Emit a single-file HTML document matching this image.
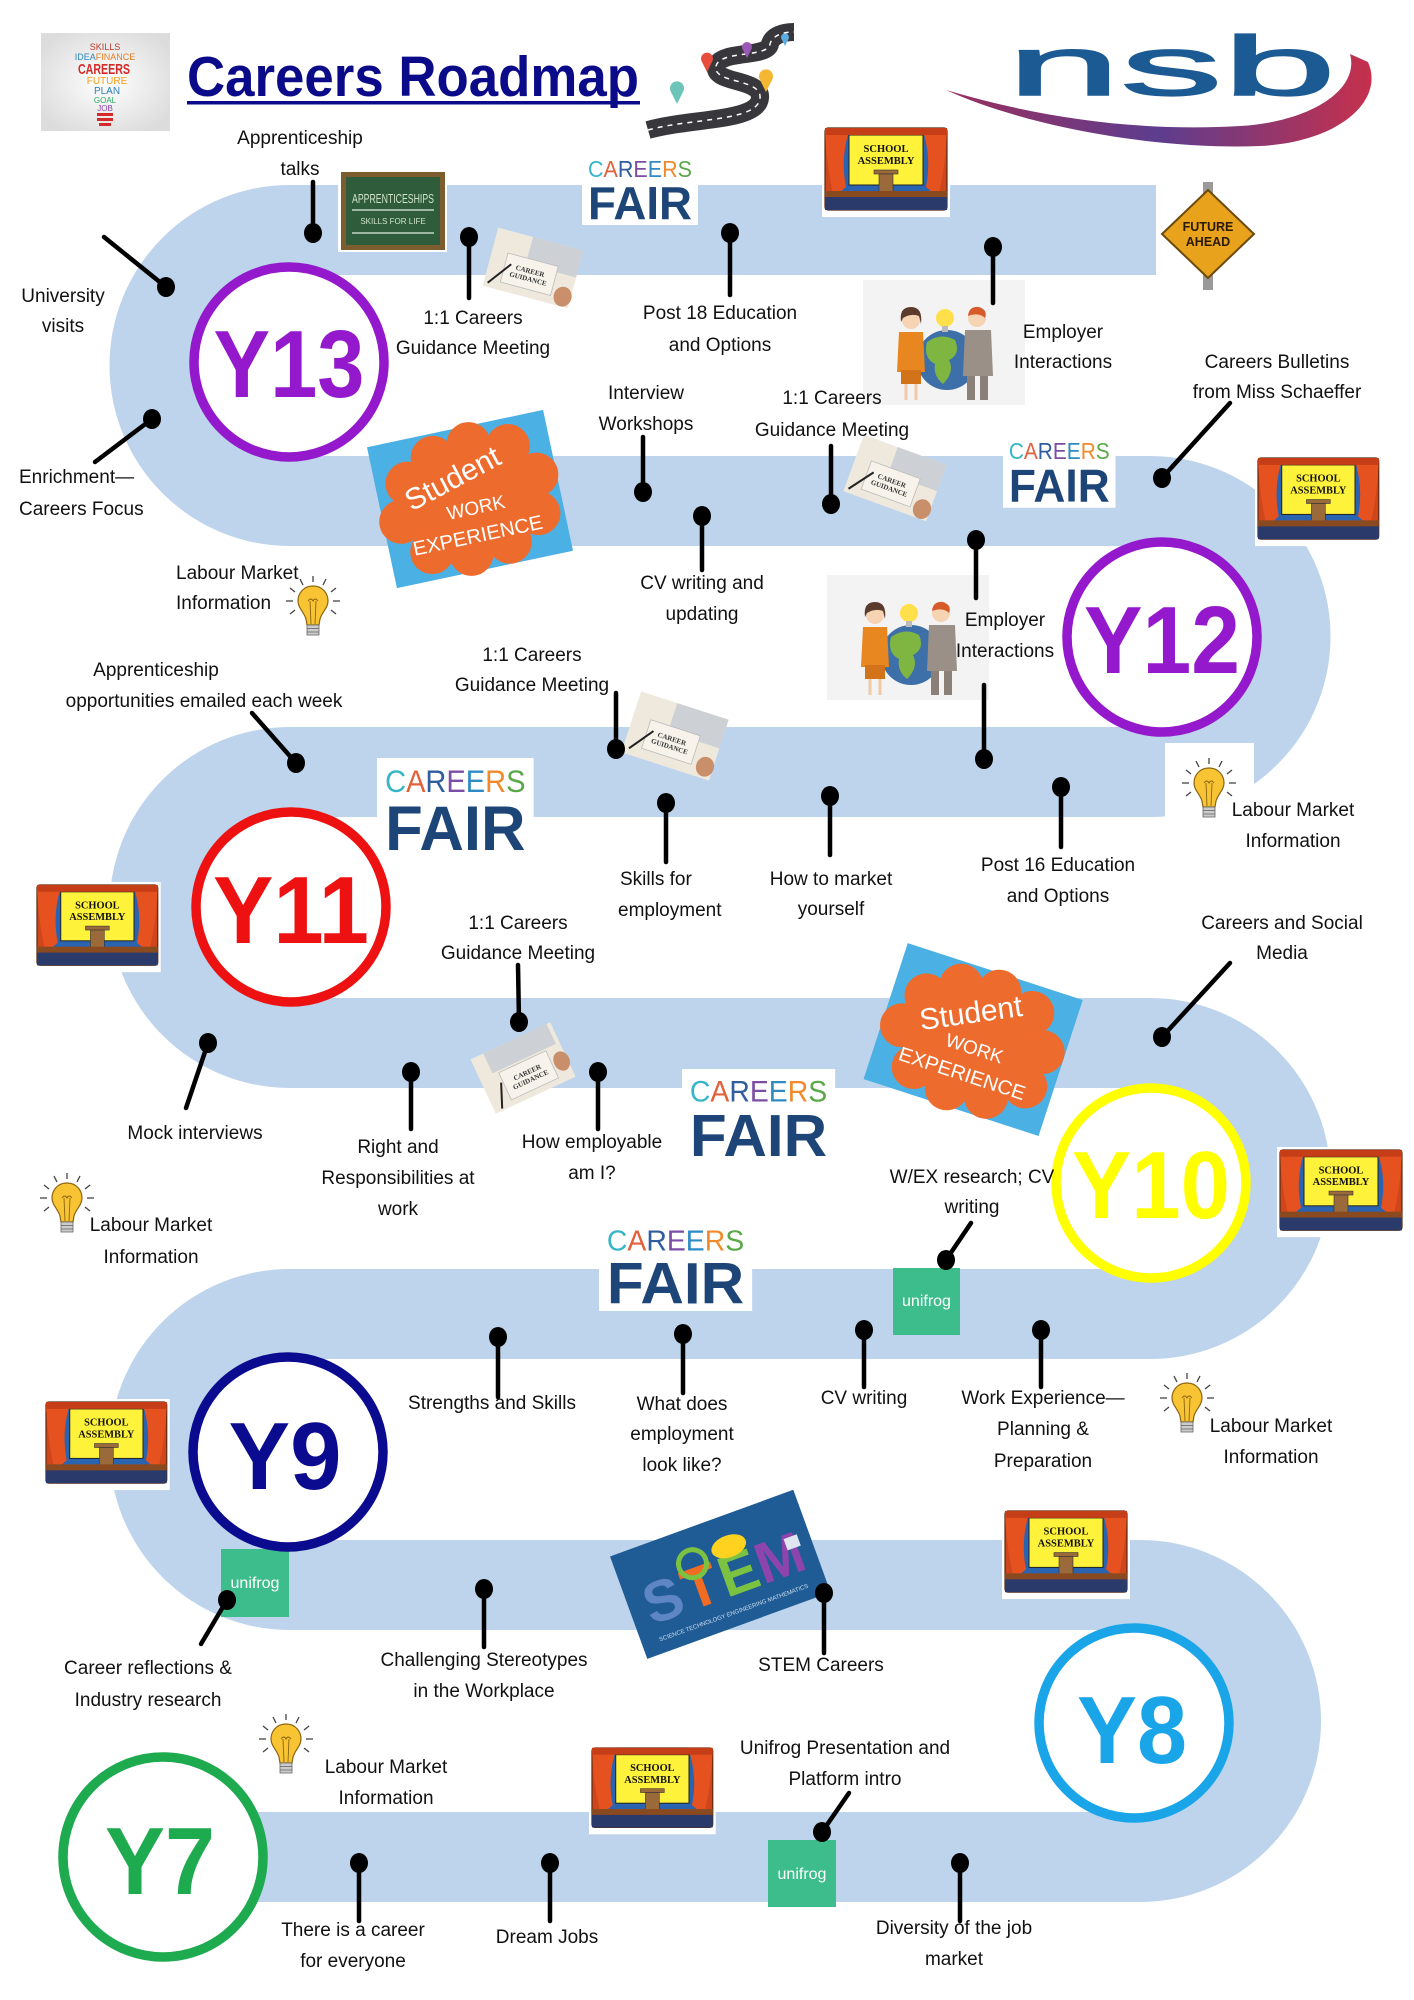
<!DOCTYPE html>
<html>
<head>
<meta charset="utf-8">
<style>
html,body{margin:0;padding:0;background:#fff;}
body{width:1414px;height:2000px;overflow:hidden;}
svg{display:block;}
</style>
</head>
<body>
<svg xmlns="http://www.w3.org/2000/svg" width="1414" height="2000" viewBox="0 0 1414 2000" font-family="Liberation Sans, sans-serif">
<defs>
<linearGradient id="sw" x1="0" y1="0" x2="1" y2="0">
<stop offset="0" stop-color="#9a2f5e"/>
<stop offset="0.5" stop-color="#5d3d8e"/>
<stop offset="1" stop-color="#c6304c"/>
</linearGradient>
<radialGradient id="bg1" cx="0.5" cy="0.5" r="0.6">
<stop offset="0" stop-color="#ffffff"/>
<stop offset="1" stop-color="#dcdcdc"/>
</radialGradient>
</defs>
<rect width="1414" height="2000" fill="#fff"/>

<!-- ROAD -->
<path d="M1156 230 H290 A135.5 135.5 0 0 0 290 501 H1150 A135.5 135.5 0 0 1 1150 772 H290 A135.5 135.5 0 0 0 290 1043 H1150 A135.5 135.5 0 0 1 1150 1314 H290 A135.5 135.5 0 0 0 290 1585 H1140 A136 136 0 0 1 1140 1857 H200" fill="none" stroke="#bed4ec" stroke-width="90"/>

<!-- HEADER -->
<g>
<rect x="41" y="33" width="129" height="98" fill="url(#bg1)"/>
<text x="105" y="50" font-size="9" text-anchor="middle" fill="#c0392b">SKILLS</text>
<text x="105" y="60" font-size="9" text-anchor="middle"><tspan fill="#2e86c1">IDEA</tspan><tspan fill="#e67e22">FINANCE</tspan></text>
<text x="104" y="74" font-size="15" font-weight="bold" text-anchor="middle" fill="#d42a2a" textLength="52" lengthAdjust="spacingAndGlyphs">CAREERS</text>
<text x="107" y="84" font-size="10" text-anchor="middle" fill="#f39c12">FUTURE</text>
<text x="107" y="94" font-size="10" text-anchor="middle" fill="#2980b9">PLAN</text>
<text x="105" y="103" font-size="8" text-anchor="middle" fill="#27ae60">GOAL</text>
<text x="105" y="111" font-size="8" text-anchor="middle" fill="#8e44ad">JOB</text>
<rect x="97" y="113" width="16" height="3" fill="#d42a2a"/>
<rect x="97" y="118" width="16" height="3" fill="#d42a2a"/>
<rect x="99" y="123" width="12" height="3" fill="#d42a2a"/>
</g>

<text x="187" y="96" font-size="57" font-weight="bold" fill="#0b0b8a" textLength="452" lengthAdjust="spacingAndGlyphs">Careers Roadmap</text>
<rect x="187" y="101" width="453" height="3.5" fill="#0b0b8a"/>

<!-- road image -->
<g>
<path d="M648 130 C690 118 758 122 760 98 C762 78 712 84 716 66 C720 50 768 58 770 44 C772 36 782 32 794 32" fill="none" stroke="#38383c" stroke-width="18"/>
<path d="M648 130 C690 118 758 122 760 98 C762 78 712 84 716 66 C720 50 768 58 770 44 C772 36 782 32 794 32" fill="none" stroke="#fff" stroke-width="1.5" stroke-dasharray="5 5"/>
<path d="M677 104 L671 92 A7 7 0 1 1 683 92Z" fill="#6cc5b8"/>
<path d="M707 72 L702 62 A6 6 0 1 1 712 62Z" fill="#e74c3c"/>
<path d="M747 58 L743 50 A5 5 0 1 1 751 50Z" fill="#9b59b6"/>
<path d="M766 92 L760 80 A7 7 0 1 1 772 80Z" fill="#f5b731"/>
<path d="M785 46 L782 40 A4 4 0 1 1 788 40Z" fill="#5dade2"/>
</g>

<!-- nsb logo -->
<path d="M946 90 C1030 128 1160 150 1260 146 C1340 142 1385 100 1368 62 L1350 54 C1360 90 1310 122 1240 126 C1140 132 1040 118 946 90Z" fill="url(#sw)"/>
<text x="1007" y="95" font-size="84" fill="#1c5a94" textLength="329" lengthAdjust="spacingAndGlyphs" stroke="#1c5a94" stroke-width="1.5">nsb</text>

<!-- APPRENTICESHIPS board -->
<g>
<rect x="338" y="170" width="109" height="82" fill="#fff"/>
<rect x="341" y="172" width="104" height="78" fill="#7d5d30"/>
<rect x="346" y="177" width="94" height="68" fill="#2f5d3b"/>
<text x="393" y="203" font-size="13" fill="#cfe2c8" text-anchor="middle" textLength="82" lengthAdjust="spacingAndGlyphs">APPRENTICESHIPS</text>
<line x1="352" y1="210" x2="434" y2="210" stroke="#dfeedd" stroke-width="1.3"/>
<text x="393" y="224" font-size="8" fill="#cfe2c8" text-anchor="middle">SKILLS FOR LIFE</text>
<line x1="352" y1="233" x2="434" y2="233" stroke="#dfeedd" stroke-width="1.3"/>
</g>

<!-- Career guidance cards -->
<g transform="translate(533,268) rotate(15)">
<rect x="-44" y="-30" width="88" height="60" fill="#efe9dd"/>
<rect x="-8" y="-30" width="52" height="28" fill="#cdd1d5"/>
<rect x="-28" y="-8" width="52" height="30" fill="#f7f3ea" stroke="#bbb" stroke-width=".8"/>
<text x="-2" y="6" font-size="7" font-family="Liberation Serif, serif" font-weight="bold" text-anchor="middle" fill="#333">CAREER</text>
<text x="-2" y="14" font-size="7" font-family="Liberation Serif, serif" font-weight="bold" text-anchor="middle" fill="#333">GUIDANCE</text>
<line x1="-40" y1="26" x2="-22" y2="2" stroke="#222" stroke-width="2"/>
<ellipse cx="36" cy="20" rx="9" ry="10" fill="#c98e6a"/>
</g>
<g transform="translate(895,478) rotate(20)">
<rect x="-44" y="-30" width="88" height="60" fill="#efe9dd"/>
<rect x="-8" y="-30" width="52" height="28" fill="#cdd1d5"/>
<rect x="-28" y="-8" width="52" height="30" fill="#f7f3ea" stroke="#bbb" stroke-width=".8"/>
<text x="-2" y="6" font-size="7" font-family="Liberation Serif, serif" font-weight="bold" text-anchor="middle" fill="#333">CAREER</text>
<text x="-2" y="14" font-size="7" font-family="Liberation Serif, serif" font-weight="bold" text-anchor="middle" fill="#333">GUIDANCE</text>
<line x1="-40" y1="26" x2="-22" y2="2" stroke="#222" stroke-width="2"/>
<ellipse cx="36" cy="20" rx="9" ry="10" fill="#c98e6a"/>
</g>
<g transform="translate(675,736) rotate(18)">
<rect x="-46" y="-32" width="92" height="64" fill="#efe9dd"/>
<rect x="-8" y="-32" width="54" height="30" fill="#cdd1d5"/>
<rect x="-28" y="-8" width="52" height="30" fill="#f7f3ea" stroke="#bbb" stroke-width=".8"/>
<text x="-2" y="6" font-size="7" font-family="Liberation Serif, serif" font-weight="bold" text-anchor="middle" fill="#333">CAREER</text>
<text x="-2" y="14" font-size="7" font-family="Liberation Serif, serif" font-weight="bold" text-anchor="middle" fill="#333">GUIDANCE</text>
<line x1="-40" y1="26" x2="-22" y2="2" stroke="#222" stroke-width="2"/>
<ellipse cx="38" cy="20" rx="9" ry="10" fill="#c98e6a"/>
</g>
<g transform="translate(523,1068) rotate(-25)">
<rect x="-44" y="-30" width="88" height="60" fill="#efe9dd"/>
<rect x="-30" y="-30" width="70" height="22" fill="#cdd1d5"/>
<rect x="-24" y="-6" width="52" height="30" fill="#f7f3ea" stroke="#bbb" stroke-width=".8"/>
<text x="2" y="8" font-size="7" font-family="Liberation Serif, serif" font-weight="bold" text-anchor="middle" fill="#333">CAREER</text>
<text x="2" y="16" font-size="7" font-family="Liberation Serif, serif" font-weight="bold" text-anchor="middle" fill="#333">GUIDANCE</text>
<line x1="-36" y1="28" x2="-26" y2="4" stroke="#222" stroke-width="2"/>
<ellipse cx="38" cy="10" rx="8" ry="10" fill="#c98e6a"/>
</g>

<!-- CAREERS FAIR logos -->
<g transform="translate(582,152)">
<rect width="116" height="73" fill="#fff"/>
<text x="58" y="25" font-size="23" text-anchor="middle" textLength="104" lengthAdjust="spacingAndGlyphs"><tspan fill="#36b5c9">C</tspan><tspan fill="#e3603a">A</tspan><tspan fill="#2f5d9e">R</tspan><tspan fill="#7a4ea3">E</tspan><tspan fill="#2e8bc4">E</tspan><tspan fill="#f08a2c">R</tspan><tspan fill="#5ba84a">S</tspan></text>
<text x="58" y="67" font-size="46" font-weight="bold" fill="#1d4577" text-anchor="middle" textLength="104" lengthAdjust="spacingAndGlyphs">FAIR</text>
</g>
<g transform="translate(1003,434) scale(0.97,1.01)">
<rect width="116" height="73" fill="#fff"/>
<text x="58" y="25" font-size="23" text-anchor="middle" textLength="104" lengthAdjust="spacingAndGlyphs"><tspan fill="#36b5c9">C</tspan><tspan fill="#e3603a">A</tspan><tspan fill="#2f5d9e">R</tspan><tspan fill="#7a4ea3">E</tspan><tspan fill="#2e8bc4">E</tspan><tspan fill="#f08a2c">R</tspan><tspan fill="#5ba84a">S</tspan></text>
<text x="58" y="67" font-size="46" font-weight="bold" fill="#1d4577" text-anchor="middle" textLength="104" lengthAdjust="spacingAndGlyphs">FAIR</text>
</g>
<g transform="translate(377,758) scale(1.35,1.37)">
<rect width="116" height="73" fill="#fff"/>
<text x="58" y="25" font-size="23" text-anchor="middle" textLength="104" lengthAdjust="spacingAndGlyphs"><tspan fill="#36b5c9">C</tspan><tspan fill="#e3603a">A</tspan><tspan fill="#2f5d9e">R</tspan><tspan fill="#7a4ea3">E</tspan><tspan fill="#2e8bc4">E</tspan><tspan fill="#f08a2c">R</tspan><tspan fill="#5ba84a">S</tspan></text>
<text x="58" y="67" font-size="46" font-weight="bold" fill="#1d4577" text-anchor="middle" textLength="104" lengthAdjust="spacingAndGlyphs">FAIR</text>
</g>
<g transform="translate(682,1069) scale(1.32,1.3)">
<rect width="116" height="73" fill="#fff"/>
<text x="58" y="25" font-size="23" text-anchor="middle" textLength="104" lengthAdjust="spacingAndGlyphs"><tspan fill="#36b5c9">C</tspan><tspan fill="#e3603a">A</tspan><tspan fill="#2f5d9e">R</tspan><tspan fill="#7a4ea3">E</tspan><tspan fill="#2e8bc4">E</tspan><tspan fill="#f08a2c">R</tspan><tspan fill="#5ba84a">S</tspan></text>
<text x="58" y="67" font-size="46" font-weight="bold" fill="#1d4577" text-anchor="middle" textLength="104" lengthAdjust="spacingAndGlyphs">FAIR</text>
</g>
<g transform="translate(599,1219) scale(1.32,1.26)">
<rect width="116" height="73" fill="#fff"/>
<text x="58" y="25" font-size="23" text-anchor="middle" textLength="104" lengthAdjust="spacingAndGlyphs"><tspan fill="#36b5c9">C</tspan><tspan fill="#e3603a">A</tspan><tspan fill="#2f5d9e">R</tspan><tspan fill="#7a4ea3">E</tspan><tspan fill="#2e8bc4">E</tspan><tspan fill="#f08a2c">R</tspan><tspan fill="#5ba84a">S</tspan></text>
<text x="58" y="67" font-size="46" font-weight="bold" fill="#1d4577" text-anchor="middle" textLength="104" lengthAdjust="spacingAndGlyphs">FAIR</text>
</g>

<!-- SCHOOL ASSEMBLY -->
<g transform="translate(822,125)">
<rect width="128" height="92" fill="#fff"/>
<rect x="3" y="3" width="122" height="82" rx="3" fill="#cf461c" stroke="#5a2a10" stroke-width="1.2"/>
<rect x="14" y="10" width="100" height="60" fill="#2a63b0"/>
<rect x="27" y="10" width="74" height="50" fill="#fff23a" stroke="#222" stroke-width="1"/>
<path d="M3 3 H28 Q18 32 24 62 L12 72 Q4 40 3 3Z" fill="#e5521f"/>
<path d="M125 3 H100 Q110 32 104 62 L116 72 Q124 40 125 3Z" fill="#e5521f"/>
<rect x="3" y="3" width="122" height="7" fill="#c53e18"/>
<rect x="52" y="45" width="24" height="4" fill="#9a6a3a" stroke="#333" stroke-width=".6"/>
<rect x="57" y="49" width="14" height="18" fill="#9a6a3a" stroke="#333" stroke-width=".6"/>
<rect x="3" y="66" width="122" height="6" fill="#8a4a20"/>
<rect x="3" y="72" width="122" height="13" fill="#2a3b6b"/>
<text x="64" y="27" font-family="Liberation Serif, serif" font-weight="bold" font-size="10.5" text-anchor="middle" fill="#111">SCHOOL</text>
<text x="64" y="39" font-family="Liberation Serif, serif" font-weight="bold" font-size="10.5" text-anchor="middle" fill="#111">ASSEMBLY</text>
</g>
<g transform="translate(1255,455) scale(0.99,0.99)">
<rect width="128" height="92" fill="#fff"/>
<rect x="3" y="3" width="122" height="82" rx="3" fill="#cf461c" stroke="#5a2a10" stroke-width="1.2"/>
<rect x="14" y="10" width="100" height="60" fill="#2a63b0"/>
<rect x="27" y="10" width="74" height="50" fill="#fff23a" stroke="#222" stroke-width="1"/>
<path d="M3 3 H28 Q18 32 24 62 L12 72 Q4 40 3 3Z" fill="#e5521f"/>
<path d="M125 3 H100 Q110 32 104 62 L116 72 Q124 40 125 3Z" fill="#e5521f"/>
<rect x="3" y="3" width="122" height="7" fill="#c53e18"/>
<rect x="52" y="45" width="24" height="4" fill="#9a6a3a" stroke="#333" stroke-width=".6"/>
<rect x="57" y="49" width="14" height="18" fill="#9a6a3a" stroke="#333" stroke-width=".6"/>
<rect x="3" y="66" width="122" height="6" fill="#8a4a20"/>
<rect x="3" y="72" width="122" height="13" fill="#2a3b6b"/>
<text x="64" y="27" font-family="Liberation Serif, serif" font-weight="bold" font-size="10.5" text-anchor="middle" fill="#111">SCHOOL</text>
<text x="64" y="39" font-family="Liberation Serif, serif" font-weight="bold" font-size="10.5" text-anchor="middle" fill="#111">ASSEMBLY</text>
</g>
<g transform="translate(34,882) scale(0.99,0.98)">
<rect width="128" height="92" fill="#fff"/>
<rect x="3" y="3" width="122" height="82" rx="3" fill="#cf461c" stroke="#5a2a10" stroke-width="1.2"/>
<rect x="14" y="10" width="100" height="60" fill="#2a63b0"/>
<rect x="27" y="10" width="74" height="50" fill="#fff23a" stroke="#222" stroke-width="1"/>
<path d="M3 3 H28 Q18 32 24 62 L12 72 Q4 40 3 3Z" fill="#e5521f"/>
<path d="M125 3 H100 Q110 32 104 62 L116 72 Q124 40 125 3Z" fill="#e5521f"/>
<rect x="3" y="3" width="122" height="7" fill="#c53e18"/>
<rect x="52" y="45" width="24" height="4" fill="#9a6a3a" stroke="#333" stroke-width=".6"/>
<rect x="57" y="49" width="14" height="18" fill="#9a6a3a" stroke="#333" stroke-width=".6"/>
<rect x="3" y="66" width="122" height="6" fill="#8a4a20"/>
<rect x="3" y="72" width="122" height="13" fill="#2a3b6b"/>
<text x="64" y="27" font-family="Liberation Serif, serif" font-weight="bold" font-size="10.5" text-anchor="middle" fill="#111">SCHOOL</text>
<text x="64" y="39" font-family="Liberation Serif, serif" font-weight="bold" font-size="10.5" text-anchor="middle" fill="#111">ASSEMBLY</text>
</g>
<g transform="translate(1277,1147) scale(1.0,0.98)">
<rect width="128" height="92" fill="#fff"/>
<rect x="3" y="3" width="122" height="82" rx="3" fill="#cf461c" stroke="#5a2a10" stroke-width="1.2"/>
<rect x="14" y="10" width="100" height="60" fill="#2a63b0"/>
<rect x="27" y="10" width="74" height="50" fill="#fff23a" stroke="#222" stroke-width="1"/>
<path d="M3 3 H28 Q18 32 24 62 L12 72 Q4 40 3 3Z" fill="#e5521f"/>
<path d="M125 3 H100 Q110 32 104 62 L116 72 Q124 40 125 3Z" fill="#e5521f"/>
<rect x="3" y="3" width="122" height="7" fill="#c53e18"/>
<rect x="52" y="45" width="24" height="4" fill="#9a6a3a" stroke="#333" stroke-width=".6"/>
<rect x="57" y="49" width="14" height="18" fill="#9a6a3a" stroke="#333" stroke-width=".6"/>
<rect x="3" y="66" width="122" height="6" fill="#8a4a20"/>
<rect x="3" y="72" width="122" height="13" fill="#2a3b6b"/>
<text x="64" y="27" font-family="Liberation Serif, serif" font-weight="bold" font-size="10.5" text-anchor="middle" fill="#111">SCHOOL</text>
<text x="64" y="39" font-family="Liberation Serif, serif" font-weight="bold" font-size="10.5" text-anchor="middle" fill="#111">ASSEMBLY</text>
</g>
<g transform="translate(43,1399) scale(0.99,0.99)">
<rect width="128" height="92" fill="#fff"/>
<rect x="3" y="3" width="122" height="82" rx="3" fill="#cf461c" stroke="#5a2a10" stroke-width="1.2"/>
<rect x="14" y="10" width="100" height="60" fill="#2a63b0"/>
<rect x="27" y="10" width="74" height="50" fill="#fff23a" stroke="#222" stroke-width="1"/>
<path d="M3 3 H28 Q18 32 24 62 L12 72 Q4 40 3 3Z" fill="#e5521f"/>
<path d="M125 3 H100 Q110 32 104 62 L116 72 Q124 40 125 3Z" fill="#e5521f"/>
<rect x="3" y="3" width="122" height="7" fill="#c53e18"/>
<rect x="52" y="45" width="24" height="4" fill="#9a6a3a" stroke="#333" stroke-width=".6"/>
<rect x="57" y="49" width="14" height="18" fill="#9a6a3a" stroke="#333" stroke-width=".6"/>
<rect x="3" y="66" width="122" height="6" fill="#8a4a20"/>
<rect x="3" y="72" width="122" height="13" fill="#2a3b6b"/>
<text x="64" y="27" font-family="Liberation Serif, serif" font-weight="bold" font-size="10.5" text-anchor="middle" fill="#111">SCHOOL</text>
<text x="64" y="39" font-family="Liberation Serif, serif" font-weight="bold" font-size="10.5" text-anchor="middle" fill="#111">ASSEMBLY</text>
</g>
<g transform="translate(1002,1508) scale(1.0,0.99)">
<rect width="128" height="92" fill="#fff"/>
<rect x="3" y="3" width="122" height="82" rx="3" fill="#cf461c" stroke="#5a2a10" stroke-width="1.2"/>
<rect x="14" y="10" width="100" height="60" fill="#2a63b0"/>
<rect x="27" y="10" width="74" height="50" fill="#fff23a" stroke="#222" stroke-width="1"/>
<path d="M3 3 H28 Q18 32 24 62 L12 72 Q4 40 3 3Z" fill="#e5521f"/>
<path d="M125 3 H100 Q110 32 104 62 L116 72 Q124 40 125 3Z" fill="#e5521f"/>
<rect x="3" y="3" width="122" height="7" fill="#c53e18"/>
<rect x="52" y="45" width="24" height="4" fill="#9a6a3a" stroke="#333" stroke-width=".6"/>
<rect x="57" y="49" width="14" height="18" fill="#9a6a3a" stroke="#333" stroke-width=".6"/>
<rect x="3" y="66" width="122" height="6" fill="#8a4a20"/>
<rect x="3" y="72" width="122" height="13" fill="#2a3b6b"/>
<text x="64" y="27" font-family="Liberation Serif, serif" font-weight="bold" font-size="10.5" text-anchor="middle" fill="#111">SCHOOL</text>
<text x="64" y="39" font-family="Liberation Serif, serif" font-weight="bold" font-size="10.5" text-anchor="middle" fill="#111">ASSEMBLY</text>
</g>
<g transform="translate(589,1745) scale(0.99,0.97)">
<rect width="128" height="92" fill="#fff"/>
<rect x="3" y="3" width="122" height="82" rx="3" fill="#cf461c" stroke="#5a2a10" stroke-width="1.2"/>
<rect x="14" y="10" width="100" height="60" fill="#2a63b0"/>
<rect x="27" y="10" width="74" height="50" fill="#fff23a" stroke="#222" stroke-width="1"/>
<path d="M3 3 H28 Q18 32 24 62 L12 72 Q4 40 3 3Z" fill="#e5521f"/>
<path d="M125 3 H100 Q110 32 104 62 L116 72 Q124 40 125 3Z" fill="#e5521f"/>
<rect x="3" y="3" width="122" height="7" fill="#c53e18"/>
<rect x="52" y="45" width="24" height="4" fill="#9a6a3a" stroke="#333" stroke-width=".6"/>
<rect x="57" y="49" width="14" height="18" fill="#9a6a3a" stroke="#333" stroke-width=".6"/>
<rect x="3" y="66" width="122" height="6" fill="#8a4a20"/>
<rect x="3" y="72" width="122" height="13" fill="#2a3b6b"/>
<text x="64" y="27" font-family="Liberation Serif, serif" font-weight="bold" font-size="10.5" text-anchor="middle" fill="#111">SCHOOL</text>
<text x="64" y="39" font-family="Liberation Serif, serif" font-weight="bold" font-size="10.5" text-anchor="middle" fill="#111">ASSEMBLY</text>
</g>

<!-- EMPLOYER images -->
<g transform="translate(863,280)">
<rect width="162" height="125" fill="#f3f3f3"/>
<circle cx="84" cy="80" r="30" fill="#3d6fa8"/>
<path d="M64 62 Q78 52 92 60 Q98 74 86 80 Q92 92 80 104 Q70 96 72 84 Q60 78 64 62Z" fill="#7fb541"/>
<circle cx="82" cy="38" r="9" fill="#ffe04a"/>
<rect x="79" y="46" width="6" height="6" fill="#bbb"/>
<circle cx="48" cy="40" r="9" fill="#f6d3b3"/>
<path d="M38 42 Q36 27 48 27 Q60 27 58 44 L56 36 Q48 33 40 38Z" fill="#5b3b2b"/>
<path d="M36 52 H60 L62 92 H34Z" fill="#e8861f"/>
<rect x="38" y="90" width="20" height="14" fill="#d2731a"/>
<line x1="43" y1="104" x2="43" y2="120" stroke="#f0c9a8" stroke-width="3"/>
<line x1="53" y1="104" x2="53" y2="120" stroke="#f0c9a8" stroke-width="3"/>
<circle cx="114" cy="38" r="9" fill="#f6d3b3"/>
<path d="M105 36 Q106 26 116 27 Q125 30 122 38 Q116 32 105 36Z" fill="#d65a2a"/>
<path d="M102 50 H128 L130 96 H100Z" fill="#9b9087"/>
<rect x="104" y="96" width="8" height="24" fill="#8a8078"/>
<rect x="117" y="96" width="8" height="24" fill="#8a8078"/>
</g>
<g transform="translate(827,575)">
<rect width="162" height="125" fill="#f3f3f3"/>
<circle cx="84" cy="80" r="30" fill="#3d6fa8"/>
<path d="M64 62 Q78 52 92 60 Q98 74 86 80 Q92 92 80 104 Q70 96 72 84 Q60 78 64 62Z" fill="#7fb541"/>
<circle cx="82" cy="38" r="9" fill="#ffe04a"/>
<rect x="79" y="46" width="6" height="6" fill="#bbb"/>
<circle cx="48" cy="40" r="9" fill="#f6d3b3"/>
<path d="M38 42 Q36 27 48 27 Q60 27 58 44 L56 36 Q48 33 40 38Z" fill="#5b3b2b"/>
<path d="M36 52 H60 L62 92 H34Z" fill="#e8861f"/>
<rect x="38" y="90" width="20" height="14" fill="#d2731a"/>
<line x1="43" y1="104" x2="43" y2="120" stroke="#f0c9a8" stroke-width="3"/>
<line x1="53" y1="104" x2="53" y2="120" stroke="#f0c9a8" stroke-width="3"/>
<circle cx="114" cy="38" r="9" fill="#f6d3b3"/>
<path d="M105 36 Q106 26 116 27 Q125 30 122 38 Q116 32 105 36Z" fill="#d65a2a"/>
<path d="M102 50 H128 L130 96 H100Z" fill="#9b9087"/>
<rect x="104" y="96" width="8" height="24" fill="#8a8078"/>
<rect x="117" y="96" width="8" height="24" fill="#8a8078"/>
</g>

<!-- FUTURE AHEAD sign -->
<g>
<rect x="1203" y="182" width="10" height="108" fill="#9a9a9a"/>
<polygon points="1208,190 1254,234 1208,278 1162,234" fill="#e9a21c" stroke="#6b4a0a" stroke-width="2"/>
<text x="1208" y="231" font-size="12.5" font-weight="bold" fill="#2a1a00" text-anchor="middle">FUTURE</text>
<text x="1208" y="246" font-size="12.5" font-weight="bold" fill="#2a1a00" text-anchor="middle">AHEAD</text>
</g>

<!-- STUDENT WORK EXPERIENCE -->
<g transform="translate(470,499) rotate(-12)">
<rect x="-90" y="-72" width="180" height="144" fill="#4bb0e3"/>
<g fill="#ee6b2e">
<ellipse cx="0" cy="0" rx="68" ry="50"/>
<circle cx="-58" cy="-28" r="22"/><circle cx="-28" cy="-48" r="22"/><circle cx="10" cy="-54" r="22"/><circle cx="48" cy="-44" r="22"/><circle cx="70" cy="-10" r="22"/><circle cx="64" cy="28" r="22"/><circle cx="30" cy="50" r="22"/><circle cx="-10" cy="54" r="22"/><circle cx="-48" cy="44" r="22"/><circle cx="-72" cy="8" r="22"/>
</g>
<text x="-10" y="-14" font-size="30" fill="#fff" text-anchor="middle" transform="rotate(-16 -10 -14)">Student</text>
<text x="4" y="16" font-size="19" fill="#fff" text-anchor="middle">WORK</text>
<text x="0" y="44" font-size="20" fill="#fff" text-anchor="middle" textLength="132" lengthAdjust="spacingAndGlyphs">EXPERIENCE</text>
</g>
<g transform="translate(973,1040) rotate(18)">
<rect x="-92" y="-72" width="184" height="143" fill="#4bb0e3"/>
<g fill="#ee6b2e">
<ellipse cx="0" cy="0" rx="68" ry="50"/>
<circle cx="-58" cy="-28" r="22"/><circle cx="-28" cy="-48" r="22"/><circle cx="10" cy="-54" r="22"/><circle cx="48" cy="-44" r="22"/><circle cx="70" cy="-10" r="22"/><circle cx="64" cy="28" r="22"/><circle cx="30" cy="50" r="22"/><circle cx="-10" cy="54" r="22"/><circle cx="-48" cy="44" r="22"/><circle cx="-72" cy="8" r="22"/>
</g>
<text x="-6" y="-16" font-size="30" fill="#fff" text-anchor="middle" transform="rotate(-26 -6 -16)">Student</text>
<text x="4" y="14" font-size="19" fill="#fff" text-anchor="middle">WORK</text>
<text x="0" y="42" font-size="20" fill="#fff" text-anchor="middle" textLength="132" lengthAdjust="spacingAndGlyphs">EXPERIENCE</text>
</g>

<!-- STEM -->
<g transform="translate(720,1575) rotate(-20)">
<rect x="-97" y="-55" width="195" height="109" fill="#1f5b94"/>
<text x="-62" y="24" font-size="58" font-weight="bold" fill="#5f86c4" text-anchor="middle">S</text>
<text x="-22" y="24" font-size="58" font-weight="bold" fill="#f26b22" text-anchor="middle">T</text>
<circle cx="-22" cy="-20" r="14" fill="none" stroke="#7cc242" stroke-width="5"/>
<text x="18" y="24" font-size="58" font-weight="bold" fill="#7cc242" text-anchor="middle">E</text>
<ellipse cx="18" cy="-24" rx="18" ry="11" fill="#ffd21f"/>
<text x="62" y="24" font-size="58" font-weight="bold" fill="#8e44ad" text-anchor="middle">M</text>
<rect x="72" y="-12" width="14" height="12" fill="#dfe6f0"/>
<text x="0" y="42" font-size="6" fill="#cde" text-anchor="middle">SCIENCE  TECHNOLOGY  ENGINEERING  MATHEMATICS</text>
</g>

<!-- Lightbulbs -->
<rect x="1165" y="743" width="89" height="87" fill="#fff"/>
<g transform="translate(284,575)">
<g stroke="#444" stroke-width="1.3"><line x1="29" y1="1" x2="29" y2="7"/><line x1="16" y1="4" x2="19" y2="10"/><line x1="42" y1="4" x2="39" y2="10"/><line x1="6" y1="13" x2="11" y2="17"/><line x1="52" y1="13" x2="47" y2="17"/><line x1="2" y1="26" x2="9" y2="26"/><line x1="56" y1="26" x2="49" y2="26"/><line x1="6" y1="39" x2="11" y2="35"/><line x1="52" y1="39" x2="47" y2="35"/></g>
<path d="M29 11 C19 11 14 19 14 26 C14 33 20 37 22 44 L23 50 H35 L36 44 C38 37 44 33 44 26 C44 19 39 11 29 11Z" fill="#f9c433" stroke="#8a6410" stroke-width="1.2"/>
<path d="M24 26 Q27 22 29 26 Q31 22 34 26 M26 26 L27 49 M32 26 L31 49" fill="none" stroke="#8a6410" stroke-width="0.9"/>
<rect x="23" y="50" width="12" height="10" fill="#ccc" stroke="#666" stroke-width="0.8"/>
<line x1="23" y1="53.5" x2="35" y2="53.5" stroke="#666" stroke-width=".8"/><line x1="23" y1="57" x2="35" y2="57" stroke="#666" stroke-width=".8"/>
</g>
<g transform="translate(1180,757)">
<g stroke="#444" stroke-width="1.3"><line x1="29" y1="1" x2="29" y2="7"/><line x1="16" y1="4" x2="19" y2="10"/><line x1="42" y1="4" x2="39" y2="10"/><line x1="6" y1="13" x2="11" y2="17"/><line x1="52" y1="13" x2="47" y2="17"/><line x1="2" y1="26" x2="9" y2="26"/><line x1="56" y1="26" x2="49" y2="26"/><line x1="6" y1="39" x2="11" y2="35"/><line x1="52" y1="39" x2="47" y2="35"/></g>
<path d="M29 11 C19 11 14 19 14 26 C14 33 20 37 22 44 L23 50 H35 L36 44 C38 37 44 33 44 26 C44 19 39 11 29 11Z" fill="#f9c433" stroke="#8a6410" stroke-width="1.2"/>
<path d="M24 26 Q27 22 29 26 Q31 22 34 26 M26 26 L27 49 M32 26 L31 49" fill="none" stroke="#8a6410" stroke-width="0.9"/>
<rect x="23" y="50" width="12" height="10" fill="#ccc" stroke="#666" stroke-width="0.8"/>
<line x1="23" y1="53.5" x2="35" y2="53.5" stroke="#666" stroke-width=".8"/><line x1="23" y1="57" x2="35" y2="57" stroke="#666" stroke-width=".8"/>
</g>
<g transform="translate(38,1172)">
<g stroke="#444" stroke-width="1.3"><line x1="29" y1="1" x2="29" y2="7"/><line x1="16" y1="4" x2="19" y2="10"/><line x1="42" y1="4" x2="39" y2="10"/><line x1="6" y1="13" x2="11" y2="17"/><line x1="52" y1="13" x2="47" y2="17"/><line x1="2" y1="26" x2="9" y2="26"/><line x1="56" y1="26" x2="49" y2="26"/><line x1="6" y1="39" x2="11" y2="35"/><line x1="52" y1="39" x2="47" y2="35"/></g>
<path d="M29 11 C19 11 14 19 14 26 C14 33 20 37 22 44 L23 50 H35 L36 44 C38 37 44 33 44 26 C44 19 39 11 29 11Z" fill="#f9c433" stroke="#8a6410" stroke-width="1.2"/>
<path d="M24 26 Q27 22 29 26 Q31 22 34 26 M26 26 L27 49 M32 26 L31 49" fill="none" stroke="#8a6410" stroke-width="0.9"/>
<rect x="23" y="50" width="12" height="10" fill="#ccc" stroke="#666" stroke-width="0.8"/>
<line x1="23" y1="53.5" x2="35" y2="53.5" stroke="#666" stroke-width=".8"/><line x1="23" y1="57" x2="35" y2="57" stroke="#666" stroke-width=".8"/>
</g>
<g transform="translate(1158,1372)">
<g stroke="#444" stroke-width="1.3"><line x1="29" y1="1" x2="29" y2="7"/><line x1="16" y1="4" x2="19" y2="10"/><line x1="42" y1="4" x2="39" y2="10"/><line x1="6" y1="13" x2="11" y2="17"/><line x1="52" y1="13" x2="47" y2="17"/><line x1="2" y1="26" x2="9" y2="26"/><line x1="56" y1="26" x2="49" y2="26"/><line x1="6" y1="39" x2="11" y2="35"/><line x1="52" y1="39" x2="47" y2="35"/></g>
<path d="M29 11 C19 11 14 19 14 26 C14 33 20 37 22 44 L23 50 H35 L36 44 C38 37 44 33 44 26 C44 19 39 11 29 11Z" fill="#f9c433" stroke="#8a6410" stroke-width="1.2"/>
<path d="M24 26 Q27 22 29 26 Q31 22 34 26 M26 26 L27 49 M32 26 L31 49" fill="none" stroke="#8a6410" stroke-width="0.9"/>
<rect x="23" y="50" width="12" height="10" fill="#ccc" stroke="#666" stroke-width="0.8"/>
<line x1="23" y1="53.5" x2="35" y2="53.5" stroke="#666" stroke-width=".8"/><line x1="23" y1="57" x2="35" y2="57" stroke="#666" stroke-width=".8"/>
</g>
<g transform="translate(257,1713)">
<g stroke="#444" stroke-width="1.3"><line x1="29" y1="1" x2="29" y2="7"/><line x1="16" y1="4" x2="19" y2="10"/><line x1="42" y1="4" x2="39" y2="10"/><line x1="6" y1="13" x2="11" y2="17"/><line x1="52" y1="13" x2="47" y2="17"/><line x1="2" y1="26" x2="9" y2="26"/><line x1="56" y1="26" x2="49" y2="26"/><line x1="6" y1="39" x2="11" y2="35"/><line x1="52" y1="39" x2="47" y2="35"/></g>
<path d="M29 11 C19 11 14 19 14 26 C14 33 20 37 22 44 L23 50 H35 L36 44 C38 37 44 33 44 26 C44 19 39 11 29 11Z" fill="#f9c433" stroke="#8a6410" stroke-width="1.2"/>
<path d="M24 26 Q27 22 29 26 Q31 22 34 26 M26 26 L27 49 M32 26 L31 49" fill="none" stroke="#8a6410" stroke-width="0.9"/>
<rect x="23" y="50" width="12" height="10" fill="#ccc" stroke="#666" stroke-width="0.8"/>
<line x1="23" y1="53.5" x2="35" y2="53.5" stroke="#666" stroke-width=".8"/><line x1="23" y1="57" x2="35" y2="57" stroke="#666" stroke-width=".8"/>
</g>

<!-- UNIFROG -->
<g>
<rect x="893" y="1268" width="67" height="67" fill="#3dbd8b"/>
<text x="926.5" y="1306" font-size="16" fill="#fff" text-anchor="middle">unifrog</text>
<rect x="221" y="1549" width="68" height="68" fill="#3dbd8b"/>
<text x="255" y="1588" font-size="16" fill="#fff" text-anchor="middle">unifrog</text>
<rect x="768" y="1840" width="68" height="67" fill="#3dbd8b"/>
<text x="802" y="1879" font-size="16" fill="#fff" text-anchor="middle">unifrog</text>
</g>

<!-- YEAR CIRCLES -->
<g fill="#fff" stroke-width="9.5">
<circle cx="289" cy="362" r="95" stroke="#9418cc"/>
<circle cx="1162" cy="637" r="95" stroke="#9418cc"/>
<circle cx="291" cy="907" r="95" stroke="#ee1111"/>
<circle cx="1151" cy="1183" r="95" stroke="#ffff00"/>
<circle cx="288" cy="1452" r="95" stroke="#0b0b8f"/>
<circle cx="1134" cy="1723" r="95" stroke="#1aa5e8"/>
<circle cx="163" cy="1857" r="100" stroke="#1eaa4f"/>
</g>
<g font-size="96" font-weight="bold" text-anchor="middle">
<text x="289" y="397" fill="#9418cc" textLength="151" lengthAdjust="spacingAndGlyphs">Y13</text>
<text x="1162" y="673" fill="#9418cc" textLength="156" lengthAdjust="spacingAndGlyphs">Y12</text>
<text x="291" y="943" fill="#ee1111" textLength="156" lengthAdjust="spacingAndGlyphs">Y11</text>
<text x="1151" y="1218" fill="#ffff00" textLength="158" lengthAdjust="spacingAndGlyphs">Y10</text>
<text x="285" y="1489" fill="#0b0b8f" textLength="113" lengthAdjust="spacingAndGlyphs">Y9</text>
<text x="1132" y="1763" fill="#1aa5e8" textLength="110" lengthAdjust="spacingAndGlyphs">Y8</text>
<text x="160" y="1894" fill="#1eaa4f" textLength="110" lengthAdjust="spacingAndGlyphs">Y7</text>
</g>

<!-- PINS -->
<g stroke="#000" stroke-width="4.5" stroke-linecap="round">
<line x1="313" y1="182" x2="313" y2="233"/>
<line x1="104" y1="237" x2="166" y2="287"/>
<line x1="469" y1="237" x2="469" y2="298"/>
<line x1="730" y1="233" x2="730" y2="295"/>
<line x1="993" y1="247" x2="993" y2="303"/>
<line x1="1230" y1="403" x2="1162" y2="478"/>
<line x1="152" y1="419" x2="95" y2="462"/>
<line x1="643" y1="437" x2="643" y2="492"/>
<line x1="831" y1="446" x2="831" y2="504"/>
<line x1="702" y1="516" x2="702" y2="570"/>
<line x1="976" y1="540" x2="976" y2="598"/>
<line x1="252" y1="713" x2="296" y2="763"/>
<line x1="616" y1="693" x2="616" y2="749"/>
<line x1="984" y1="685" x2="984" y2="759"/>
<line x1="666" y1="803" x2="666" y2="862"/>
<line x1="830" y1="796" x2="830" y2="855"/>
<line x1="1061" y1="787" x2="1061" y2="847"/>
<line x1="1230" y1="963" x2="1162" y2="1037"/>
<line x1="518" y1="965" x2="519" y2="1022"/>
<line x1="208" y1="1043" x2="186" y2="1108"/>
<line x1="411" y1="1072" x2="411" y2="1129"/>
<line x1="598" y1="1072" x2="598" y2="1129"/>
<line x1="971" y1="1223" x2="946" y2="1260"/>
<line x1="498" y1="1337" x2="498" y2="1397"/>
<line x1="683" y1="1334" x2="683" y2="1393"/>
<line x1="864" y1="1330" x2="864" y2="1387"/>
<line x1="1041" y1="1330" x2="1041" y2="1387"/>
<line x1="227" y1="1600" x2="201" y2="1644"/>
<line x1="484" y1="1589" x2="484" y2="1647"/>
<line x1="824" y1="1593" x2="824" y2="1653"/>
<line x1="849" y1="1793" x2="822" y2="1832"/>
<line x1="359" y1="1863" x2="359" y2="1921"/>
<line x1="550" y1="1863" x2="550" y2="1921"/>
<line x1="960" y1="1863" x2="960" y2="1921"/>
</g>
<g fill="#000">
<ellipse cx="313" cy="233" rx="9" ry="10"/>
<ellipse cx="166" cy="287" rx="9" ry="10"/>
<ellipse cx="469" cy="237" rx="9" ry="10"/>
<ellipse cx="730" cy="233" rx="9" ry="10"/>
<ellipse cx="993" cy="247" rx="9" ry="10"/>
<ellipse cx="1162" cy="478" rx="9" ry="10"/>
<ellipse cx="152" cy="419" rx="9" ry="10"/>
<ellipse cx="643" cy="492" rx="9" ry="10"/>
<ellipse cx="831" cy="504" rx="9" ry="10"/>
<ellipse cx="702" cy="516" rx="9" ry="10"/>
<ellipse cx="976" cy="540" rx="9" ry="10"/>
<ellipse cx="296" cy="763" rx="9" ry="10"/>
<ellipse cx="616" cy="749" rx="9" ry="10"/>
<ellipse cx="984" cy="759" rx="9" ry="10"/>
<ellipse cx="666" cy="803" rx="9" ry="10"/>
<ellipse cx="830" cy="796" rx="9" ry="10"/>
<ellipse cx="1061" cy="787" rx="9" ry="10"/>
<ellipse cx="1162" cy="1037" rx="9" ry="10"/>
<ellipse cx="519" cy="1022" rx="9" ry="10"/>
<ellipse cx="208" cy="1043" rx="9" ry="10"/>
<ellipse cx="411" cy="1072" rx="9" ry="10"/>
<ellipse cx="598" cy="1072" rx="9" ry="10"/>
<ellipse cx="946" cy="1260" rx="9" ry="10"/>
<ellipse cx="498" cy="1337" rx="9" ry="10"/>
<ellipse cx="683" cy="1334" rx="9" ry="10"/>
<ellipse cx="864" cy="1330" rx="9" ry="10"/>
<ellipse cx="1041" cy="1330" rx="9" ry="10"/>
<ellipse cx="227" cy="1600" rx="9" ry="10"/>
<ellipse cx="484" cy="1589" rx="9" ry="10"/>
<ellipse cx="824" cy="1593" rx="9" ry="10"/>
<ellipse cx="822" cy="1832" rx="9" ry="10"/>
<ellipse cx="359" cy="1863" rx="9" ry="10"/>
<ellipse cx="550" cy="1863" rx="9" ry="10"/>
<ellipse cx="960" cy="1863" rx="9" ry="10"/>
</g>

<!-- LABELS -->
<g font-size="19" fill="#111" text-anchor="middle">
<text x="300" y="144">Apprenticeship</text>
<text x="300" y="175">talks</text>
<text x="63" y="302">University</text>
<text x="63" y="332">visits</text>
<text x="473" y="324">1:1 Careers</text>
<text x="473" y="354">Guidance Meeting</text>
<text x="720" y="319">Post 18 Education</text>
<text x="720" y="351">and Options</text>
<text x="1063" y="338">Employer</text>
<text x="1063" y="368">Interactions</text>
<text x="1277" y="368">Careers Bulletins</text>
<text x="1277" y="398">from Miss Schaeffer</text>
<text x="19" y="483" text-anchor="start">Enrichment—</text>
<text x="19" y="515" text-anchor="start">Careers Focus</text>
<text x="646" y="399">Interview</text>
<text x="646" y="430">Workshops</text>
<text x="832" y="404">1:1 Careers</text>
<text x="832" y="436">Guidance Meeting</text>
<text x="176" y="579" text-anchor="start">Labour Market</text>
<text x="176" y="609" text-anchor="start">Information</text>
<text x="702" y="589">CV writing and</text>
<text x="702" y="620">updating</text>
<text x="1005" y="626">Employer</text>
<text x="1005" y="657">Interactions</text>
<text x="156" y="676">Apprenticeship</text>
<text x="204" y="707">opportunities emailed each week</text>
<text x="532" y="661">1:1 Careers</text>
<text x="532" y="691">Guidance Meeting</text>
<text x="1293" y="816">Labour Market</text>
<text x="1293" y="847">Information</text>
<text x="620" y="885" text-anchor="start">Skills for</text>
<text x="618" y="916" text-anchor="start">employment</text>
<text x="831" y="885">How to market</text>
<text x="831" y="915">yourself</text>
<text x="1058" y="871">Post 16 Education</text>
<text x="1058" y="902">and Options</text>
<text x="1282" y="929">Careers and Social</text>
<text x="1282" y="959">Media</text>
<text x="518" y="929">1:1 Careers</text>
<text x="518" y="959">Guidance Meeting</text>
<text x="195" y="1139">Mock interviews</text>
<text x="398" y="1153">Right and</text>
<text x="398" y="1184">Responsibilities at</text>
<text x="398" y="1215">work</text>
<text x="592" y="1148">How employable</text>
<text x="592" y="1179">am I?</text>
<text x="972" y="1183">W/EX research; CV</text>
<text x="972" y="1213">writing</text>
<text x="151" y="1231">Labour Market</text>
<text x="151" y="1263">Information</text>
<text x="492" y="1409">Strengths and Skills</text>
<text x="682" y="1410">What does</text>
<text x="682" y="1440">employment</text>
<text x="682" y="1471">look like?</text>
<text x="864" y="1404">CV writing</text>
<text x="1043" y="1404">Work Experience—</text>
<text x="1043" y="1435">Planning &amp;</text>
<text x="1043" y="1467">Preparation</text>
<text x="1271" y="1432">Labour Market</text>
<text x="1271" y="1463">Information</text>
<text x="148" y="1674">Career reflections &amp;</text>
<text x="148" y="1706">Industry research</text>
<text x="484" y="1666">Challenging Stereotypes</text>
<text x="484" y="1697">in the Workplace</text>
<text x="821" y="1671">STEM Careers</text>
<text x="386" y="1773">Labour Market</text>
<text x="386" y="1804">Information</text>
<text x="845" y="1754">Unifrog Presentation and</text>
<text x="845" y="1785">Platform intro</text>
<text x="353" y="1936">There is a career</text>
<text x="353" y="1967">for everyone</text>
<text x="547" y="1943">Dream Jobs</text>
<text x="954" y="1934">Diversity of the job</text>
<text x="954" y="1965">market</text>
</g>
</svg>
</body>
</html>
